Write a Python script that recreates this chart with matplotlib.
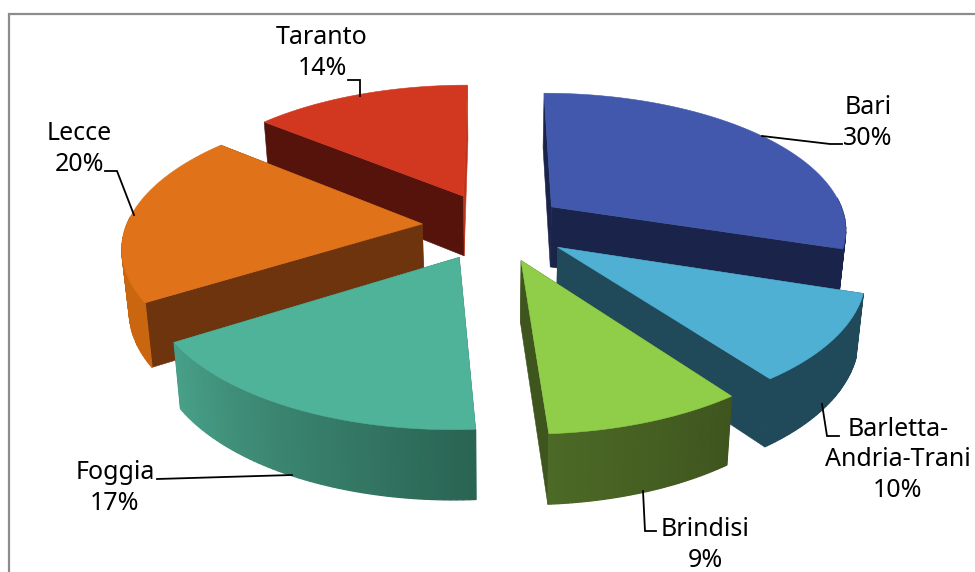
import numpy as np
import matplotlib
matplotlib.use('Agg')
import matplotlib.pyplot as plt
from matplotlib.colors import to_rgb

provinces = ['Bari', 'Barletta-\nAndria-Trani', 'Brindisi', 'Foggia', 'Lecce', 'Taranto']
shares = [30, 10, 9, 17, 20, 14]

top_colors = ['#4158AD', '#4FB0D4', '#90CE49', '#4FB39A', '#E07219', '#D2371F']
wall_colors = ['#1A244B', '#20495A', '#3F551E', '#2A6453', '#6D340E', '#55130B']
end_wall_colors = ['#1A244B', '#20495A', '#3F551E', '#2A6453', '#6D340E', '#C0331C']
rim_start = ['#1A244B', '#20495A', '#3F551E', '#2A6453', '#C9660F', '#C0331C']
rim_end = ['#1A244B', '#20495A', '#4C6926', '#48A088', '#C9660F', '#C0331C']
explode = [0.245, 0.26, 0.26, 0.25, 0.243, 0.25]

label_pos = [(868, 123), (898, 460), (705, 545), (115, 488), (79, 149), (322, 53)]
leaders = [
    [(762, 136), (830, 144), (842, 144)],
    [(822, 404), (827, 436), (839, 436)],
    [(643, 491), (645, 531), (656, 531)],
    [(292, 475), (157, 479)],
    [(134, 215), (117, 171), (105, 171)],
    [(360, 96), (360, 80), (348, 80)],
]

# fake 3d camera, pixels
cx, cy = 494, 226
scale_x, scale_y = 296, 136
persp = 0.15
depth = 61


def project(x, y, z=0):
    w = 1 + persp * y
    sx = cx + scale_x * x / w * (1 - 0.02 * z)
    sy = cy - scale_y * y / w + z * depth / w ** 0.7
    return sx, sy


def fill(xs, ys, color, z, lw=0.4):
    ax.fill(xs, ys, facecolor=color, edgecolor=color, lw=lw, zorder=z)


fig = plt.figure(figsize=(9.75, 5.72), dpi=100)
ax = fig.add_axes([0, 0, 1, 1])
ax.set_xlim(0, 975)
ax.set_ylim(572, 0)
ax.axis('off')

# chart border, the right and bottom sides fall outside the image
ax.plot([8.5, 8.5, 975], [572, 14, 14], color='#8C8C8C', lw=1.6, solid_joinstyle='miter')

edges = np.cumsum([0] + shares) / sum(shares) * 2 * np.pi
mids = (edges[:-1] + edges[1:]) / 2

# back slices first
order = np.argsort(-np.cos(mids))
for rank, i in enumerate(order):
    base = 10 + rank * 3
    ox, oy = explode[i] * np.sin(mids[i]), explode[i] * np.cos(mids[i])
    angles = np.linspace(edges[i], edges[i + 1], 60)
    gx = ox + np.sin(angles)
    gy = oy + np.cos(angles)

    # the two radial walls, under the rim so back-facing ones stay hidden
    ax0, ay0 = project(ox, oy)
    ax1, ay1 = project(ox, oy, 1)
    for k, wall in ((0, wall_colors[i]), (-1, end_wall_colors[i])):
        ex0, ey0 = project(gx[k], gy[k])
        ex1, ey1 = project(gx[k], gy[k], 1)
        fill([ax0, ex0, ex1, ax1], [ay0, ey0, ey1, ay1], wall, base)

    # outer rim as small quads so it can carry a gradient, front part only
    c0, c1 = np.array(to_rgb(rim_start[i])), np.array(to_rgb(rim_end[i]))
    for k in range(len(angles) - 1):
        if np.cos(angles[k]) > 0.05 and np.cos(angles[k + 1]) > 0.05:
            continue
        t = k / (len(angles) - 2)
        tx0, ty0 = project(gx[k], gy[k])
        tx1, ty1 = project(gx[k + 1], gy[k + 1])
        bx1, by1 = project(gx[k + 1], gy[k + 1], 1)
        bx0, by0 = project(gx[k], gy[k], 1)
        fill([tx0, tx1, bx1, bx0], [ty0, ty1, by1, by0], tuple(c0 + (c1 - c0) * t), base + 1, lw=0.9)

    # top face
    sx, sy = project(np.r_[ox, gx], np.r_[oy, gy])
    fill(sx, sy, top_colors[i], base + 2)

for i, name in enumerate(provinces):
    ax.plot(*zip(*leaders[i]), color='black', lw=1.3, zorder=40, solid_joinstyle='miter')
    ax.text(label_pos[i][0], label_pos[i][1], f'{name}\n{shares[i]}%', ha='center', va='center',
            fontsize=18, family='Noto Sans', linespacing=1.3, color='black', zorder=41)

fig.savefig('out.png', dpi=100)
